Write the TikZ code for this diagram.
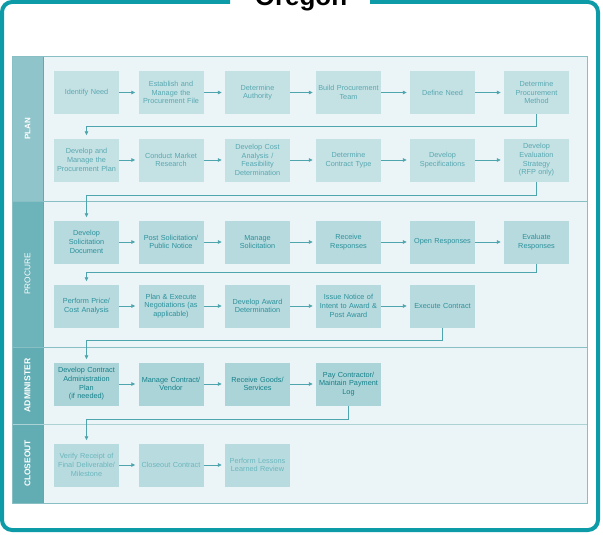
\documentclass[tikz,border=0pt]{standalone}
\usepackage{fontspec}
\setmainfont{Liberation Sans}
\usetikzlibrary{arrows.meta}

\definecolor{frameteal}{HTML}{0E9BA8}
\definecolor{lanebg}{HTML}{EBF5F7}
\definecolor{laneline}{HTML}{88BFC5}
\definecolor{colline}{HTML}{5FA9B0}
\definecolor{planhead}{HTML}{8EC4CA}
\definecolor{prochead}{HTML}{6DB3BA}
\definecolor{admhead}{HTML}{62ADB4}
\definecolor{closehead}{HTML}{62ADB4}
\definecolor{planfill}{HTML}{C4E1E4}
\definecolor{plantext}{HTML}{58A9B1}
\definecolor{procfill}{HTML}{B6DADE}
\definecolor{proctext}{HTML}{2C919C}
\definecolor{admfill}{HTML}{ABD4D8}
\definecolor{admtext}{HTML}{147F89}
\definecolor{closefill}{HTML}{B8DBDF}
\definecolor{closetext}{HTML}{6AB7BE}
\definecolor{flowc}{HTML}{4FA5AE}

\begin{document}
\begin{tikzpicture}[x=1pt,y=-1pt,
  stepbox/.style={rectangle, minimum width=65pt, minimum height=43pt,
    inner sep=0pt, text width=63pt, align=center,
    font=\fontsize{7.3}{8.7}\selectfont},
  planbox/.style={stepbox, fill=planfill, text=plantext},
  procbox/.style={stepbox, fill=procfill, text=proctext},
  admbox/.style={stepbox, fill=admfill, text=admtext},
  closebox/.style={stepbox, fill=closefill, text=closetext},
  lanelabel/.style={rotate=90, text=white, inner sep=0pt},
  flow/.style={draw=flowc, line width=0.8pt,
    -{Triangle[length=4pt,width=3.6pt]}, shorten >=3pt}]
\useasboundingbox (0,0) rectangle (603,535);

% outer frame with a gap for the title
\draw[frameteal, line width=4pt, rounded corners=10pt]
  (370,2) -- (598,2) -- (598,530) -- (2,530) -- (2,2) -- (230,2);
\node[font=\bfseries\fontsize{26}{26}\selectfont, anchor=base] (title) at (301,6) {Oregon};

% swimlane background
\fill[lanebg] (12,56) rectangle (587,503);
\fill[planhead] (12,56) rectangle (43,201);
\fill[prochead] (12,201) rectangle (43,347);
\fill[admhead] (12,347) rectangle (43,424);
\fill[closehead] (12,424) rectangle (43,503);
\draw[colline, line width=0.8pt] (43,56) -- (43,503);
\draw[laneline, line width=0.8pt] (12,201) -- (587,201);
\draw[laneline, line width=0.8pt] (12,347) -- (587,347);
\draw[laneline!70, line width=0.8pt] (12,424) -- (587,424);
\draw[laneline, line width=0.8pt] (12,56) rectangle (587,503);

\node[lanelabel, font=\bfseries\fontsize{8}{8}\selectfont] (lplan) at (27.5,128.5) {PLAN};
\node[lanelabel, font=\fontsize{8.3}{8.3}\selectfont] (lproc) at (27.5,274) {PROCURE};
\node[lanelabel, font=\bfseries\fontsize{8.6}{8.6}\selectfont] (ladm) at (27.5,385.5) {ADMINISTER};
\node[lanelabel, font=\bfseries\fontsize{8.4}{8.4}\selectfont] (lclose) at (27.5,463.5) {CLOSEOUT};

% PLAN
\node[planbox] (p11) at (86.5,92.5) {Identify Need};
\node[planbox] (p12) at (171,92.5) {Establish and\\Manage the\\Procurement File};
\node[planbox] (p13) at (257.5,92.5) {Determine\\Authority};
\node[planbox] (p14) at (348.5,92.5) {Build Procurement\\Team};
\node[planbox] (p15) at (442.5,92.5) {Define Need};
\node[planbox] (p16) at (536.5,92.5) {Determine\\Procurement\\Method};

\node[planbox] (p21) at (86.5,160) {Develop and\\Manage the\\Procurement Plan};
\node[planbox] (p22) at (171,160) {Conduct Market\\Research};
\node[planbox] (p23) at (257.5,160) {Develop Cost\\Analysis /\\Feasibility\\Determination};
\node[planbox] (p24) at (348.5,160) {Determine\\Contract Type};
\node[planbox] (p25) at (442.5,160) {Develop\\Specifications};
\node[planbox] (p26) at (536.5,160) {Develop Evaluation\\Strategy\\(RFP only)};

% PROCURE
\node[procbox] (r11) at (86.5,242) {Develop\\Solicitation\\Document};
\node[procbox] (r12) at (171,242) {Post Solicitation/\\Public Notice};
\node[procbox] (r13) at (257.5,242) {Manage\\Solicitation};
\node[procbox] (r14) at (348.5,242) {Receive\\Responses};
\node[procbox] (r15) at (442.5,242) {Open Responses};
\node[procbox] (r16) at (536.5,242) {Evaluate\\Responses};

\node[procbox] (r21) at (86.5,306) {Perform Price/\\Cost Analysis};
\node[procbox] (r22) at (171,306) {Plan \& Execute\\Negotiations (as\\applicable)};
\node[procbox] (r23) at (257.5,306) {Develop Award\\Determination};
\node[procbox] (r24) at (348.5,306) {Issue Notice of\\Intent to Award \&\\Post Award};
\node[procbox] (r25) at (442.5,306) {Execute Contract};

% ADMINISTER
\node[admbox] (a1) at (86.5,384) {Develop Contract\\Administration\\Plan\\(if needed)};
\node[admbox] (a2) at (171,384) {Manage Contract/\\Vendor};
\node[admbox] (a3) at (257.5,384) {Receive Goods/\\Services};
\node[admbox] (a4) at (348.5,384) {Pay Contractor/\\Maintain Payment\\Log};

% CLOSEOUT
\node[closebox] (c1) at (86.5,465) {Verify Receipt of\\Final Deliverable/\\Milestone};
\node[closebox] (c2) at (171,465) {Closeout Contract};
\node[closebox] (c3) at (257.5,465) {Perform Lessons\\Learned Review};

% flows within rows
\foreach \a/\b in {p11/p12,p12/p13,p13/p14,p14/p15,p15/p16,
                   p21/p22,p22/p23,p23/p24,p24/p25,p25/p26,
                   r11/r12,r12/r13,r13/r14,r14/r15,r15/r16,
                   r21/r22,r22/r23,r23/r24,r24/r25,
                   a1/a2,a2/a3,a3/a4,c1/c2,c2/c3}
  \draw[flow] (\a.east) -- (\b.west);

% returns to the next row
\draw[flow] (p16.south) -- ++(0,12) -| (p21.north);
\draw[flow] (p26.south) -- ++(0,13.5) -| (r11.north);
\draw[flow] (r16.south) -- ++(0,8.5) -| (r21.north);
\draw[flow] (r25.south) -- ++(0,12.5) -| (a1.north);
\draw[flow] (a4.south) -- ++(0,13.5) -| (c1.north);
\end{tikzpicture}
\end{document}
